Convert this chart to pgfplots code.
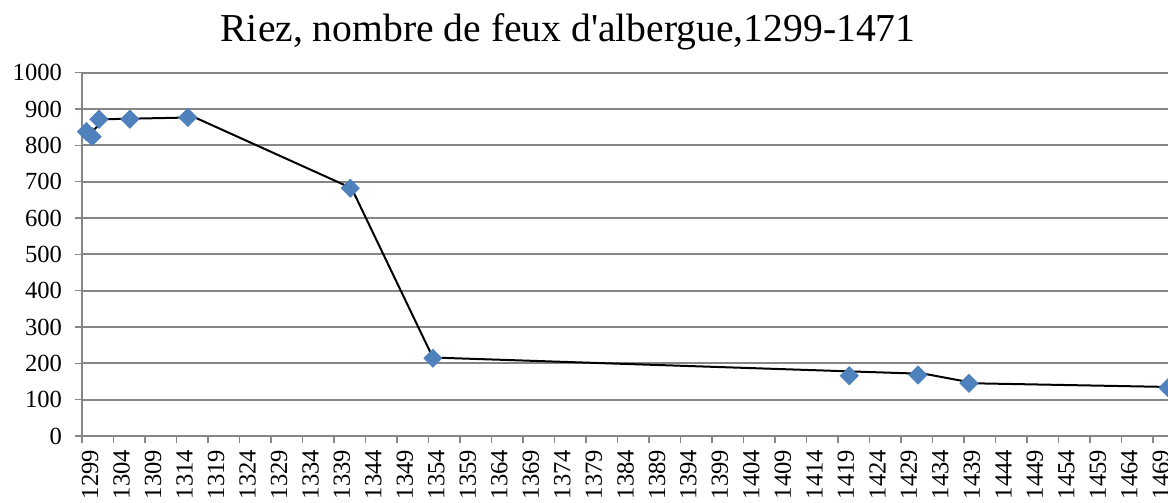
\documentclass[border=0pt]{standalone}
\usepackage{pgfplots}
\pgfplotsset{compat=1.18}
\usepackage{fontspec}
\setmainfont{Liberation Serif}
\usetikzlibrary{calc}
\definecolor{mk}{RGB}{79,129,189}
\definecolor{gridg}{RGB}{134,134,134}

\begin{document}
\begin{tikzpicture}
\begin{axis}[scale only axis,width=543pt,height=181.65pt,
  xmin=1299,xmax=1471.4,ymin=0,ymax=1000,
  xtick={1299,1304,...,1469},ytick={0,100,...,1000},
  axis lines=left,axis line style={-,gridg,line width=1pt},
  ymajorgrids,grid style={gridg,line width=1pt},
  tick style={gridg,line width=0.8pt},tick align=outside,
  major tick length=3.5pt,
  x tick label style={rotate=90,anchor=east,yshift=-4pt,
    font=\fontsize{12.3}{12.3}\selectfont},
  y tick label style={xshift=-3pt,font=\fontsize{12.3}{12.3}\selectfont},
  /pgf/number format/assume math mode=true,
  /pgf/number format/1000 sep={},
  xtick pos=bottom,ytick pos=left,
  clip=false]
\coordinate (bl) at (rel axis cs:0,0);
\coordinate (tr) at (rel axis cs:1,1);
% markers
\addplot[only marks,mark=square*,mark size=3.2pt,
  mark options={rotate=45,fill=mk,draw=mk}] coordinates {
  (1299.7,838) (1300.6,824) (1301.7,872) (1306.6,872) (1315.8,877)
  (1341.6,682) (1354.7,214) (1420.8,166) (1431.7,168) (1439.8,145)
  (1471.4,133)};
% line
\addplot[black,line width=1pt,no marks] coordinates {
  (1300.4,836) (1302.8,872) (1316.9,877) (1341.8,682) (1354.7,216)
  (1432.8,171) (1440.8,145) (1471.4,135)};
\node[font=\fontsize{19.8}{19.8}\selectfont,anchor=center]
  at (rel axis cs:0.4475,1.112) {Riez, nombre de feux d\textquotesingle albergue,1299-1471};
\end{axis}
\pgfresetboundingbox
\useasboundingbox ($(bl)+(-41pt,-33.5pt)$) rectangle ($(tr)+(0pt,36.35pt)$);
\end{tikzpicture}
\end{document}
